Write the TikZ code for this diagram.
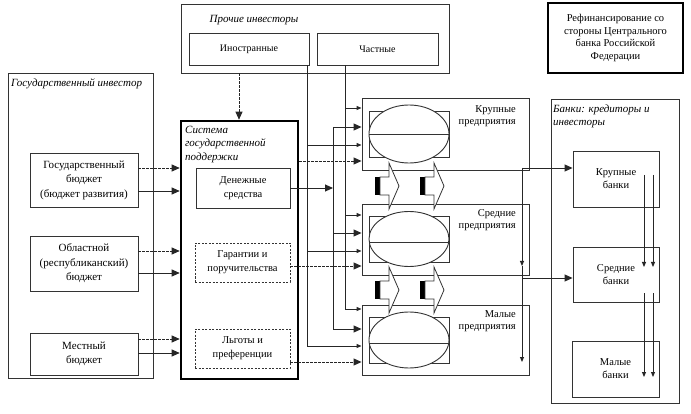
\documentclass[tikz,border=0pt]{standalone}
\usepackage{fontspec}
\setmainfont{Liberation Serif}
\usetikzlibrary{arrows.meta}
\begin{document}
\begin{tikzpicture}[x=1pt,y=-1pt,
  every node/.style={font=\fontsize{10}{12}\selectfont},
  box/.style={draw=black!80, line width=0.9pt, inner sep=0pt, align=center, fill=white},
  thickbox/.style={box, line width=2.6pt, draw=black},
  dbox/.style={box, dash pattern=on 2pt off 1.5pt},
  ttl/.style={font=\fontsize{11}{13}\selectfont\itshape, align=left, inner sep=0pt},
  lnk/.style={draw=black!85, line width=0.9pt},
  dlnk/.style={lnk, dash pattern=on 2.5pt off 1.5pt},
  big/.style={-{Triangle[length=8pt,width=7pt]}},
  sml/.style={-{Triangle[length=5pt,width=4pt]}},
  elabel/.style={inner sep=0pt, align=right, anchor=east, font=\fontsize{10.5}{12}\selectfont},
]
\useasboundingbox (0,0) rectangle (691,414);

% ---------- other investors ----------
\node[box, minimum width=268pt, minimum height=69pt] (others) at (315,38.5) {};
\node[ttl, anchor=center] (othersT) at (254,20) {Прочие инвесторы};
\node[box, minimum width=120pt, minimum height=32pt] (foreign) at (249,49) {Иностранные};
\node[box, minimum width=121pt, minimum height=32pt] (private) at (377.5,49) {Частные};

% ---------- refinancing ----------
\node[thickbox, minimum width=135pt, minimum height=70pt,
      font=\fontsize{10.5}{12.5}\selectfont] (refin) at (615.5,38)
  {Рефинансирование со\\стороны Центрального\\банка Российской\\Федерации};

% ---------- state investor ----------
\node[box, minimum width=145pt, minimum height=305pt] (state) at (80.5,225.5) {};
\node[ttl, anchor=north west] (stateT) at (11,78) {Государственный инвестор};
\node[box, minimum width=108pt, minimum height=54pt, font=\fontsize{11}{14.5}\selectfont] (gb) at (84,180)
  {Государственный\\бюджет\\(бюджет развития)};
\node[box, minimum width=108pt, minimum height=55pt, font=\fontsize{11}{14.5}\selectfont] (ob) at (84,263.5)
  {Областной\\(республиканский)\\бюджет};
\node[box, minimum width=108pt, minimum height=42pt, font=\fontsize{11}{14.5}\selectfont] (mb) at (84,354)
  {Местный\\бюджет};

% ---------- support system ----------
\node[thickbox, minimum width=117pt, minimum height=258pt] (sys) at (239.5,250) {};
\node[ttl, anchor=north west, font=\fontsize{11}{13.5}\selectfont\itshape] (sysT) at (185,126)
  {Система\\государственной\\поддержки};
\node[box, minimum width=94pt, minimum height=40pt, font=\fontsize{10.5}{14}\selectfont] (money) at (243,188) {Денежные\\средства};
\node[dbox, minimum width=95pt, minimum height=39pt, font=\fontsize{10.5}{14}\selectfont] (guar) at (242.5,262.5) {Гарантии и\\поручительства};
\node[dbox, minimum width=95pt, minimum height=39pt, font=\fontsize{10.5}{14}\selectfont] (lgoty) at (242.5,348.5) {Льготы и\\преференции};

% ---------- enterprises ----------
\node[box, minimum width=167pt, minimum height=72pt] (large) at (445.5,134) {};
\node[box, minimum width=167pt, minimum height=71pt] (medium) at (445.5,239.5) {};
\node[box, minimum width=167pt, minimum height=70pt] (small) at (445.5,340) {};
\node[elabel] (largeL) at (516,116) {Крупные\\предприятия};
\node[elabel] (mediumL) at (516,220) {Средние\\предприятия};
\node[elabel] (smallL) at (516,321) {Малые\\предприятия};

% inner rect + ellipse
\foreach \yc/\yl/\ry in {134/134/29, 239/242/27.5, 340/343/28}{
  \draw[draw=black!80, line width=0.9pt, fill=white] (369,\yc-23) rectangle (449,\yc+23);
  \draw[draw=black!80, line width=0.9pt, fill=white] (409,\yc) ellipse [x radius=40, y radius=\ry];
  \draw[draw=black!80, line width=0.9pt] (369,\yl) -- (449,\yl);
}

% block arrows between enterprises
\foreach \cy in {186,290}{
  \foreach \bx in {375,420}{
    \fill[black] (\bx,\cy-9) rectangle (\bx+5,\cy+9);
    \draw[draw=black!80, line width=0.8pt, fill=white]
      (\bx+5,\cy-9) -- (\bx+14,\cy-9) -- (\bx+14,\cy-23) -- (\bx+24,\cy) --
      (\bx+14,\cy+23) -- (\bx+14,\cy+9) -- (\bx+5,\cy+9) -- cycle;
  }
}

% ---------- banks ----------
\node[box, minimum width=128pt, minimum height=304pt] (banks) at (615,251) {};
\node[ttl, anchor=north west] (banksT) at (553,105) {Банки: кредиторы и\\инвесторы};
\node[box, minimum width=86pt, minimum height=56pt, font=\fontsize{10.5}{13}\selectfont] (kb) at (616,179) {Крупные\\банки};
\node[box, minimum width=86pt, minimum height=55pt, font=\fontsize{10.5}{13}\selectfont] (sbank) at (616,274.5) {Средние\\банки};
\node[box, minimum width=87pt, minimum height=56pt, font=\fontsize{10.5}{13}\selectfont] (mbank) at (615.5,369) {Малые\\банки};

% ---------- helper y-levels ----------
\foreach \yy in {108,127,145,161,168,191,215,233,251,266,273,278,309,329,339,346,353,362}{
  \coordinate (y\yy) at (0,\yy);
}
\coordinate (xf) at (307,0);
\coordinate (xp) at (345,0);
\coordinate (xm) at (333,0);
\coordinate (xd) at (239,0);
\coordinate (xr) at (522,0);

% top dashed arrow into support system
\draw[dlnk,big] (others.south -| xd) -- (sys.north -| xd);

% foreign investors bus
\draw[lnk,sml] (foreign.south -| xf) |- (small.west |- y346);
\draw[lnk,sml] (xf |- y145) -- (large.west |- y145);
\draw[lnk,sml] (xf |- y251) -- (medium.west |- y251);

% private investors bus
\draw[lnk,sml] (private.south -| xp) |- (small.west |- y309);
\draw[lnk,sml] (xp |- y108) -- (large.west |- y108);
\draw[lnk,sml] (xp |- y215) -- (medium.west |- y215);

% money bus
\coordinate (mjoin) at (333,188);
\draw[lnk,big] (money.east) -- (mjoin);
\draw[lnk] (xm |- y127) -- (xm |- y329);
\draw[lnk,big] (xm |- y127) -- (large.west |- y127);
\draw[lnk,big] (xm |- y233) -- (medium.west |- y233);
\draw[lnk,big] (xm |- y329) -- (small.west |- y329);

% dashed support arrows
\draw[dlnk,big] (sys.east |- y161) -- (large.west |- y161);
\draw[dlnk,big] (guar.east |- y266) -- (medium.west |- y266);
\draw[dlnk,big] (lgoty.east |- y362) -- (small.west |- y362);

% budgets -> support system
\coordinate (gbd) at (0,168); \coordinate (obd) at (0,251); \coordinate (mbd) at (0,339);
\draw[dlnk,big] (gb.east |- gbd) -- (sys.west |- gbd);
\draw[lnk,big] (gb.east |- y191) -- (sys.west |- y191);
\draw[dlnk,big] (ob.east |- obd) -- (sys.west |- obd);
\draw[lnk,big] (ob.east |- y273) -- (sys.west |- y273);
\draw[dlnk,big] (mb.east |- mbd) -- (sys.west |- mbd);
\draw[lnk,big] (mb.east |- y353) -- (sys.west |- y353);

% enterprises -> banks
\coordinate (r0) at (522,168);
\coordinate (r1) at (522,266);
\coordinate (r2) at (522,362);
\coordinate (r3) at (522,278);
\draw[lnk,big] (r0) -- (kb.west |- r0);
\draw[lnk,sml] (r0) -- (r1);
\draw[lnk,sml] (r1) -- (r2);
\draw[lnk,big] (r3) -- (sbank.west |- r3);

% arrows inside banks
\coordinate (ba1) at (644,175); \coordinate (ba2) at (644,267);
\coordinate (bb1) at (653,175); \coordinate (bb2) at (653,267);
\coordinate (bc1) at (644,293); \coordinate (bc2) at (644,377);
\coordinate (bd1) at (653,293); \coordinate (bd2) at (653,377);
\draw[lnk,sml] (ba1) -- (ba2);
\draw[lnk,sml] (bb1) -- (bb2);
\draw[lnk,sml] (bc1) -- (bc2);
\draw[lnk,sml] (bd1) -- (bd2);
\end{tikzpicture}
\end{document}
